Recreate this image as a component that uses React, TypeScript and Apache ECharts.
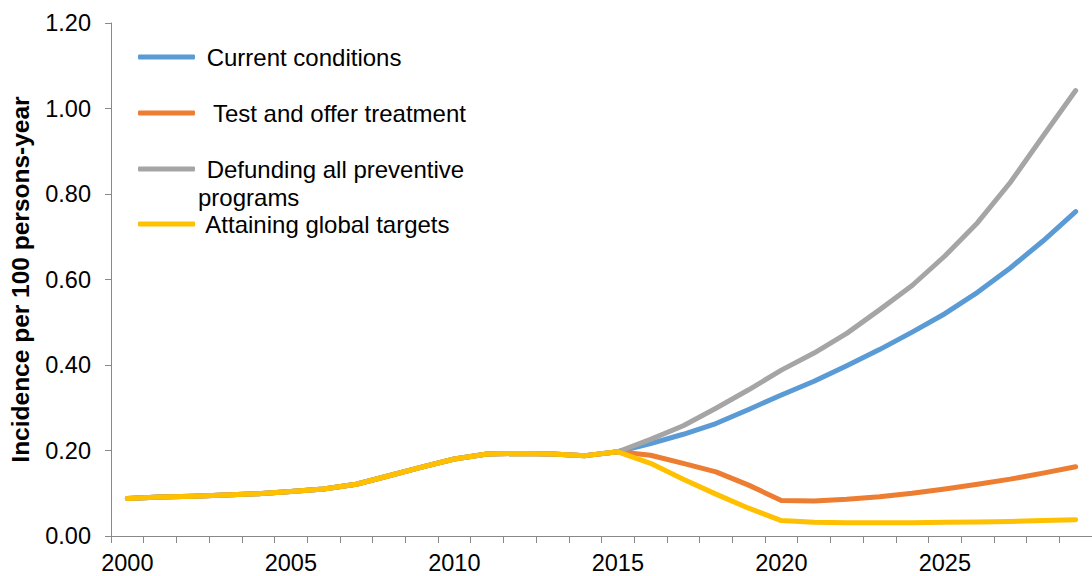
import React, { useEffect, useRef } from "react";
import * as echarts from "echarts";

const years = [
  "2000", "2001", "2002", "2003", "2004", "2005", "2006", "2007", "2008", "2009",
  "2010", "2011", "2012", "2013", "2014", "2015", "2016", "2017", "2018", "2019",
  "2020", "2021", "2022", "2023", "2024", "2025", "2026", "2027", "2028", "2029",
];

// shared history 2000-2015
const history = [0.088, 0.091, 0.093, 0.096, 0.099, 0.104, 0.110, 0.121, 0.141, 0.161, 0.180, 0.192, 0.193, 0.192, 0.188, 0.197];

// projections 2016-2029
const currentProj = [0.216, 0.238, 0.263, 0.296, 0.330, 0.362, 0.398, 0.436, 0.477, 0.520, 0.570, 0.627, 0.690, 0.759];
const testProj = [0.189, 0.170, 0.150, 0.119, 0.083, 0.082, 0.086, 0.092, 0.100, 0.110, 0.121, 0.133, 0.147, 0.162];
const defundProj = [0.226, 0.258, 0.299, 0.342, 0.388, 0.428, 0.474, 0.529, 0.586, 0.655, 0.733, 0.827, 0.935, 1.042];
const attainProj = [0.170, 0.133, 0.098, 0.065, 0.036, 0.032, 0.031, 0.031, 0.031, 0.032, 0.033, 0.034, 0.036, 0.038];

const seriesNames = [
  "Current conditions",
  "Test and offer treatment",
  "Defunding all preventive programs",
  "Attaining global targets",
];
const seriesColors = ["#5B9BD5", "#ED7D31", "#A5A5A5", "#FFC000"];
const seriesProj = [currentProj, testProj, defundProj, attainProj];

const legendLabels = [" Current conditions", "  Test and offer treatment", " Defunding all preventive", " Attaining global targets"];
const legendCenters = [57, 113, 169, 224];

const yTicks = [0, 0.2, 0.4, 0.6, 0.8, 1.0, 1.2];

const FONT = "'Liberation Sans', Arial, sans-serif";

export default function App() {
  const ref = useRef<HTMLDivElement>(null);

  useEffect(() => {
    if (!ref.current) return;
    const chart = echarts.init(ref.current, null, { renderer: "svg" });
    const legendFont = 24;
    chart.setOption({
      animation: false,
      backgroundColor: "#ffffff",
      textStyle: { fontFamily: FONT },
      grid: { left: 110.5, top: 23, width: 990, bottom: 40, containLabel: false },
      legend: seriesNames.map((name, i) => ({
        data: [name],
        left: 138,
        top: legendCenters[i] - legendFont / 2,
        padding: 0,
        icon: "roundRect",
        itemWidth: 57,
        itemHeight: 5,
        selectedMode: false,
        formatter: () => legendLabels[i],
        textStyle: { fontSize: legendFont, color: "#000", fontFamily: FONT },
      })),
      graphic: [
        {
          type: "text",
          left: 198,
          top: 197 - legendFont / 2,
          style: { text: "programs", fontSize: legendFont, fill: "#000", fontFamily: FONT },
        },
      ],
      xAxis: {
        type: "category",
        data: years,
        boundaryGap: true,
        axisLine: { lineStyle: { color: "#898989", width: 1 } },
        axisTick: { show: true, interval: 0, length: 7, lineStyle: { color: "#898989" } },
        axisLabel: { interval: 4, color: "#000", fontSize: 23.5, margin: 15, fontFamily: FONT },
        splitLine: { show: false },
      },
      yAxis: {
        type: "value",
        min: yTicks[0],
        max: yTicks[yTicks.length - 1],
        interval: 0.2,
        name: "Incidence per 100 persons-year",
        nameLocation: "middle",
        nameGap: 78,
        nameTextStyle: { fontSize: 24.5, fontWeight: "bold", color: "#000", fontFamily: FONT },
        axisLine: { show: true, lineStyle: { color: "#898989", width: 1 } },
        axisTick: { show: true, length: 6, lineStyle: { color: "#898989" } },
        axisLabel: {
          color: "#000",
          fontSize: 23.5,
          margin: 20,
          fontFamily: FONT,
          formatter: (v: number) => v.toFixed(2),
        },
        splitLine: { show: false },
      },
      series: seriesNames.map((name, i) => ({
        name,
        type: "line",
        data: history.concat(seriesProj[i]),
        symbol: "none",
        smooth: false,
        color: seriesColors[i],
        lineStyle: { width: 5, color: seriesColors[i], cap: "round", join: "round" },
        z: 2 + i,
      })),
    });
    return () => chart.dispose();
  }, []);

  return (
    <div
      ref={ref}
      style={{ position: "absolute", left: 0, top: 0, width: 1092, height: 576, background: "#fff" }}
    />
  );
}
